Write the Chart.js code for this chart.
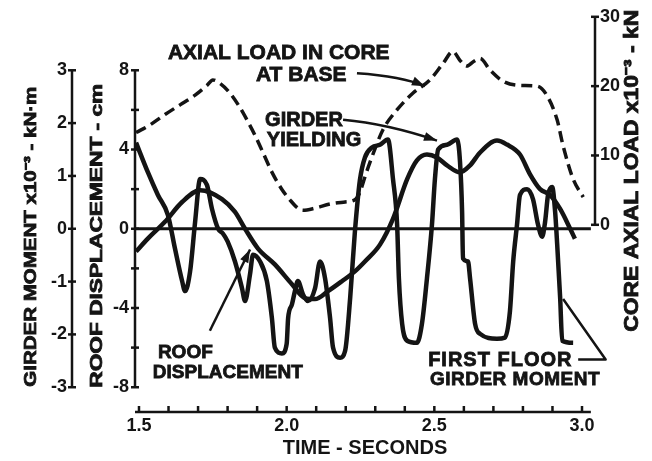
<!DOCTYPE html>
<html>
<head>
<meta charset="utf-8">
<script src="https://cdn.jsdelivr.net/npm/chart.js@4.4.1/dist/chart.umd.min.js"></script>
<style>
html,body{margin:0;padding:0;background:#fff;}
#wrap{width:652px;height:461px;position:relative;}
</style>
</head>
<body>
<div id="wrap"><canvas id="c" width="652" height="461"></canvas></div>
<script>
// ---------- DATA ----------
const roofTime = [1.49,1.53,1.588,1.646,1.707,1.781,1.825,1.859,1.903,1.96,2.018,2.062,2.096,2.14,2.187,2.231,2.265,2.316,2.36,2.408,2.441,2.475,2.509,2.543,2.587,2.621,2.655,2.712,2.746,2.79,2.824,2.858,2.892,2.926,2.96,2.976];
const roofDisp = [-1.15,-0.5,0.35,1.35,1.95,1.5,0.85,0,-1.0,-1.8,-2.8,-3.5,-3.55,-3.15,-2.65,-2.15,-1.65,-0.8,0.5,2.5,3.45,3.75,3.6,3.2,2.85,3.2,3.85,4.45,4.25,3.75,2.75,2.0,1.7,1.0,0,-0.5];

const momentTime = [1.49,1.53,1.564,1.598,1.622,1.646,1.656,1.673,1.69,1.707,1.73,1.747,1.768,1.784,1.80,1.825,1.849,1.859,1.876,1.886,1.91,1.933,1.95,1.96,1.984,2.0,2.005,2.018,2.028,2.038,2.055,2.072,2.096,2.113,2.13,2.147,2.157,2.181,2.198,2.215,2.231,2.248,2.265,2.289,2.316,2.343,2.36,2.374,2.38,2.391,2.408,2.441,2.458,2.475,2.492,2.502,2.513,2.543,2.577,2.587,2.594,2.597,2.614,2.621,2.638,2.655,2.712,2.739,2.756,2.767,2.78,2.79,2.814,2.834,2.851,2.865,2.875,2.885,2.899,2.909,2.916,2.926,2.933,2.97];
const girderMoment = [1.63,1.07,0.64,0.26,-0.38,-0.99,-1.18,-0.81,0.13,0.94,0.83,0.38,0,-0.09,-0.24,-0.62,-1.13,-1.37,-0.86,-0.49,-0.62,-0.99,-1.69,-2.25,-2.36,-2.18,-1.69,-1.43,-1.18,-0.99,-1.24,-1.37,-1.13,-0.62,-0.94,-1.69,-2.25,-2.44,-2.31,-1.31,-0.06,0.92,1.35,1.54,1.59,1.69,0.94,0.08,-0.94,-1.8,-2.12,-2.16,-1.8,-0.94,0.08,0.94,1.5,1.59,1.69,1.26,0.32,-0.56,-0.62,-0.94,-1.8,-1.99,-2.08,-2.06,-1.56,-0.62,0.08,0.64,0.75,0.56,0.08,-0.15,0.13,0.64,0.79,0.32,-0.3,-1.31,-2.12,-2.16];

const axialTime = [1.49,1.537,1.588,1.639,1.69,1.73,1.75,1.774,1.808,1.842,1.866,1.893,1.92,1.95,1.984,2.011,2.038,2.055,2.096,2.147,2.198,2.231,2.248,2.265,2.282,2.326,2.374,2.428,2.485,2.53,2.563,2.587,2.61,2.634,2.655,2.689,2.733,2.79,2.848,2.882,2.916,2.936,2.97,3.004];
const axialLoad = [13.3,14.4,15.9,17.3,18.7,20.1,20.9,20.4,19.0,16.9,15.1,12.9,10.4,7.6,5.1,3.6,2.4,2.1,2.4,3.0,3.3,3.6,4.7,6.9,9.0,13.7,16.6,19.0,20.9,23.3,25.0,23.7,22.9,23.6,24.0,22.3,20.7,20.1,20.0,18.6,15.1,11.4,6.6,4.0];

const xTickValues = [1.5,1.6,1.7,1.8,1.9,2.0,2.1,2.2,2.3,2.4,2.5,2.6,2.7,2.8,2.9,3.0];
const xTickLabels = ['1.5','2.0','2.5','3.0'];
const dispTickValues = [-8,-6,-4,-2,0,2,4,6,8];
const dispTickLabels = ['-8','-4','0','4','8'];
const momentTickValues = [-3,-2,-1,0,1,2,3];
const axialTickValues = [0,10,20,30];

const xTitle = 'TIME - SECONDS';
const momentTitle = 'GIRDER MOMENT x10\u207B\u00B3 - kN\u00B7m';
const dispTitle = 'ROOF DISPLACEMENT - cm';
const axialTitle = 'CORE AXIAL LOAD x10\u207B\u00B3 - kN';

// ---------- STYLE ----------
const ink = '#141414';
const FAM = "'Liberation Sans', Arial, sans-serif";
Chart.defaults.font.family = FAM;
Chart.defaults.font.weight = 'bold';
Chart.defaults.color = ink;

const toPts = (xs, ys) => xs.map((t, i) => ({x: t, y: ys[i]}));
const setTicks = vals => scale => { scale.ticks = vals.map(v => ({value: v})); };

function seg(ctx, pts) {
  ctx.beginPath();
  ctx.moveTo(pts[0][0], pts[0][1]);
  for (let i = 1; i < pts.length; i++) ctx.lineTo(pts[i][0], pts[i][1]);
  ctx.stroke();
}
function arrowHead(ctx, from, to, len, half) {
  const a = Math.atan2(to[1] - from[1], to[0] - from[0]);
  ctx.beginPath();
  ctx.moveTo(to[0], to[1]);
  ctx.lineTo(to[0] - len * Math.cos(a) + half * Math.sin(a), to[1] - len * Math.sin(a) - half * Math.cos(a));
  ctx.lineTo(to[0] - len * Math.cos(a) - half * Math.sin(a), to[1] - len * Math.sin(a) + half * Math.cos(a));
  ctx.closePath();
  ctx.fill();
}
function heavyText(ctx, text, x, y) {
  ctx.lineWidth = 0.8;
  ctx.strokeText(text, x, y);
  ctx.fillText(text, x, y);
}
function vText(ctx, text, cx, cy, len, size) {
  ctx.save();
  ctx.translate(cx, cy);
  ctx.rotate(-Math.PI / 2);
  ctx.font = 'bold ' + size + 'px ' + FAM;
  const w = ctx.measureText(text).width;
  ctx.scale(len / w, 1);
  ctx.textAlign = 'center';
  ctx.textBaseline = 'middle';
  heavyText(ctx, text, 0, 0);
  ctx.restore();
}

// annotation anchors in data coordinates (time, roof displacement)
const notes = [
  {text: 'AXIAL LOAD IN CORE', t: 1.598, d: 8.85, size: 21},
  {text: 'AT BASE', t: 1.896, d: 7.75, size: 21},
  {text: 'GIRDER', t: 1.927, d: 5.45, size: 20},
  {text: 'YIELDING', t: 1.933, d: 4.45, size: 20},
  {text: 'ROOF', t: 1.564, d: -6.25, size: 19},
  {text: 'DISPLACEMENT', t: 1.547, d: -7.25, size: 19},
  {text: 'FIRST FLOOR', t: 2.479, d: -6.65, size: 20, sp: 1},
  {text: 'GIRDER MOMENT', t: 2.485, d: -7.6, size: 19, sp: 0.5}
];
const pointers = [
  {pts: [[2.238, 7.85], [2.39, 7.7], [2.468, 7.2]], head: true},
  {pts: [[2.191, 5.5], [2.34, 5.3], [2.509, 4.45]], head: true},
  {pts: [[1.74, -5.15], [1.876, -1.05]], head: true},
  {pts: [[2.987, -6.6], [3.08, -6.6], [2.936, -3.55]], head: false}
];

const overlay = {
  id: 'overlay',
  beforeDatasetsDraw(chart) {
    const {ctx, chartArea: ca, scales: {x, yDisp, yMom, yAx}} = chart;
    ctx.save();
    ctx.strokeStyle = ink;
    ctx.fillStyle = ink;
    // zero reference line
    ctx.lineWidth = 3;
    const y0 = yDisp.getPixelForValue(0);
    seg(ctx, [[ca.left, y0], [x.getPixelForValue(3.03), y0]]);
    ctx.lineWidth = 2.5;
    // girder moment axis
    const mx = yMom.right;
    seg(ctx, [[mx, yMom.getPixelForValue(3)], [mx, yMom.getPixelForValue(-3)]]);
    momentTickValues.forEach(v => { const p = yMom.getPixelForValue(v); seg(ctx, [[mx - 4, p], [mx + 4, p]]); });
    // roof displacement axis
    const dx = yDisp.right;
    seg(ctx, [[dx, yDisp.getPixelForValue(8)], [dx, yDisp.getPixelForValue(-8)]]);
    dispTickValues.forEach(v => { const p = yDisp.getPixelForValue(v); seg(ctx, [[dx - 4, p], [dx + 4, p]]); });
    // axial load axis
    const ax = yAx.left;
    seg(ctx, [[ax, yAx.getPixelForValue(30)], [ax, yAx.getPixelForValue(0)]]);
    axialTickValues.forEach(v => { const p = yAx.getPixelForValue(v); seg(ctx, [[ax - 4, p], [ax + 4, p]]); });
    // time axis
    const ty = x.top;
    seg(ctx, [[ca.left, ty], [x.getPixelForValue(3.03), ty]]);
    xTickValues.forEach(v => { const p = x.getPixelForValue(v); seg(ctx, [[p, ty], [p, ty - 6]]); });
    ctx.restore();
  },
  afterDraw(chart) {
    const {ctx, scales: {x, yDisp, yMom, yAx}} = chart;
    ctx.save();
    ctx.fillStyle = ink;
    ctx.strokeStyle = ink;
    // vertical axis titles
    vText(ctx, momentTitle, yMom.left + 31, (yMom.getPixelForValue(3) + yMom.getPixelForValue(-3)) / 2 + 8, 300, 17);
    vText(ctx, dispTitle, yMom.right + 25, (yDisp.getPixelForValue(8) + yDisp.getPixelForValue(-8)) / 2 + 7, 304, 17);
    vText(ctx, axialTitle, yAx.left + 37, (yAx.getPixelForValue(30) + yAx.getPixelForValue(0)) / 2 + 50, 322, 20);
    // annotation texts
    ctx.textAlign = 'left';
    ctx.textBaseline = 'middle';
    notes.forEach(n => {
      ctx.font = 'bold ' + n.size + 'px ' + FAM;
      ctx.letterSpacing = (n.sp || 0) + 'px';
      heavyText(ctx, n.text, x.getPixelForValue(n.t), yDisp.getPixelForValue(n.d));
    });
    ctx.letterSpacing = '0px';
    // pointers
    ctx.lineWidth = 2.5;
    ctx.lineJoin = 'round';
    pointers.forEach(p => {
      const px = p.pts.map(q => [x.getPixelForValue(q[0]), yDisp.getPixelForValue(q[1])]);
      ctx.beginPath();
      ctx.moveTo(px[0][0], px[0][1]);
      if (px.length === 3 && p.head) ctx.quadraticCurveTo(px[1][0], px[1][1], px[2][0], px[2][1]);
      else for (let i = 1; i < px.length; i++) ctx.lineTo(px[i][0], px[i][1]);
      ctx.stroke();
      if (p.head) arrowHead(ctx, px[px.length - 2], px[px.length - 1], 13, 4.5);
    });
    ctx.restore();
  }
};

const tickFont = {size: 18, weight: 'bold', family: FAM};

new Chart(document.getElementById('c'), {
  type: 'line',
  data: {
    datasets: [
      {label: 'Roof displacement', data: toPts(roofTime, roofDisp), yAxisID: 'yDisp',
       borderColor: ink, borderWidth: 4.5, pointRadius: 0, cubicInterpolationMode: 'monotone', fill: false},
      {label: 'First floor girder moment', data: toPts(momentTime, girderMoment), yAxisID: 'yMom',
       borderColor: ink, borderWidth: 4.5, pointRadius: 0, cubicInterpolationMode: 'monotone', fill: false},
      {label: 'Axial load in core at base', data: toPts(axialTime, axialLoad), yAxisID: 'yAx',
       borderColor: ink, borderWidth: 3.5, borderDash: [11, 6], pointRadius: 0, cubicInterpolationMode: 'monotone', fill: false}
    ]
  },
  options: {
    responsive: false,
    animation: false,
    devicePixelRatio: 1,
    layout: {padding: {top: 13, left: 0, right: 0, bottom: 0}},
    plugins: {legend: {display: false}, tooltip: {enabled: false}},
    scales: {
      x: {
        type: 'linear', position: 'bottom', min: 1.4865, max: 3.044,
        afterBuildTicks: setTicks(xTickValues),
        afterFit: s => { s.height = 49; },
        grid: {display: false, drawTicks: false},
        border: {display: false},
        ticks: {autoSkip: false, maxRotation: 0, padding: 3, font: tickFont,
                callback: v => { const s = Number(v).toFixed(1); return xTickLabels.includes(s) ? s : ''; }},
        title: {display: true, text: xTitle, font: {size: 20, weight: 'bold', family: FAM, lineHeight: 1.2}, padding: {top: 0, bottom: 1}}
      },
      yMom: {
        type: 'linear', position: 'left', weight: 1, min: -3.469, max: 4.0125,
        afterBuildTicks: setTicks(momentTickValues),
        afterFit: s => { s.width = 72; },
        grid: {display: false, drawTicks: false},
        border: {display: false},
        ticks: {autoSkip: false, padding: 5, font: tickFont, callback: v => String(v)}
      },
      yDisp: {
        type: 'linear', position: 'left', weight: 0, min: -9.25, max: 10.7,
        afterBuildTicks: setTicks(dispTickValues),
        afterFit: s => { s.width = 63; },
        grid: {display: false, drawTicks: false},
        border: {display: false},
        ticks: {autoSkip: false, padding: 6, font: tickFont,
                callback: v => dispTickLabels.includes(String(v)) ? String(v) : ''}
      },
      yAx: {
        type: 'linear', position: 'right', min: -27, max: 30,
        afterBuildTicks: setTicks(axialTickValues),
        afterFit: s => { s.width = 57; },
        grid: {display: false, drawTicks: false},
        border: {display: false},
        ticks: {autoSkip: false, padding: 5, font: tickFont, callback: v => String(v)}
      }
    }
  },
  plugins: [overlay]
});
</script>
</body>
</html>
